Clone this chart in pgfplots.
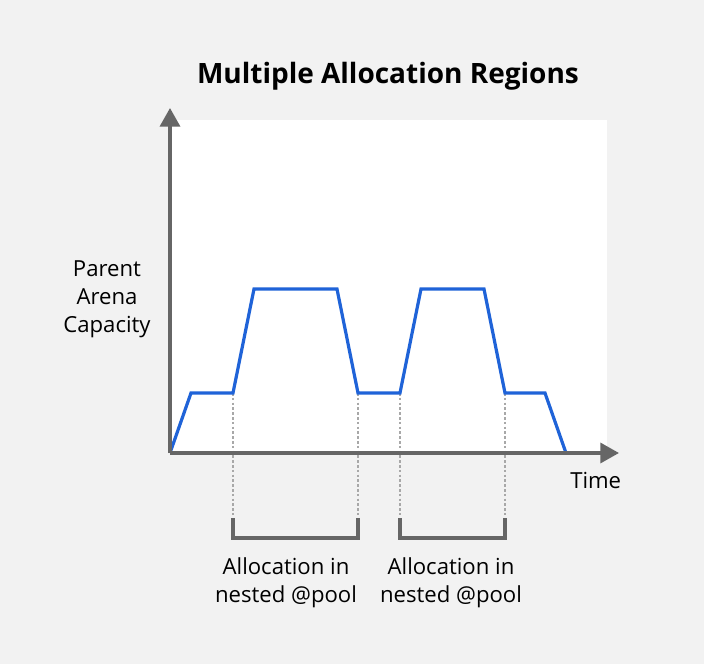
\documentclass[border=0pt]{standalone}
\usepackage{pgfplots}
\pgfplotsset{compat=1.18}
\usepackage{fontspec}
\setmainfont{Open Sans}
\usetikzlibrary{arrows.meta}
\definecolor{bg}{HTML}{F2F2F2}
\definecolor{axgray}{HTML}{666666}
\definecolor{dotgray}{HTML}{A8A8A8}
\definecolor{lineblue}{HTML}{1F63D8}
\begin{document}
\begin{tikzpicture}
\begin{axis}[
  x=0.75pt, y=0.75pt,
  xmin=0, xmax=437, ymin=0, ymax=333,
  hide axis, clip=false,
]
% canvas and plot area
\fill[bg] (axis cs:-170,-211) rectangle (axis cs:534,453);
\fill[white] (axis cs:0,0) rectangle (axis cs:437,333);
% dotted guide lines
\addplot[dotgray, line width=2.2pt, dash pattern=on 2pt off 1.6pt, forget plot] coordinates {(63,60) (63,-62)};
\addplot[dotgray, line width=2.2pt, dash pattern=on 2pt off 1.6pt, forget plot] coordinates {(188,60) (188,-62)};
\addplot[dotgray, line width=2.2pt, dash pattern=on 2pt off 1.6pt, forget plot] coordinates {(230,60) (230,-62)};
\addplot[dotgray, line width=2.2pt, dash pattern=on 2pt off 1.6pt, forget plot] coordinates {(335,60) (335,-62)};
% brackets
\addplot[axgray, line width=2.6pt, forget plot] coordinates {(63,-65) (63,-85) (188,-85) (188,-65)};
\addplot[axgray, line width=2.6pt, forget plot] coordinates {(230,-65) (230,-85) (335,-85) (335,-65)};
% capacity line
\addplot[lineblue, line width=2.4pt, line join=miter, forget plot] coordinates {
(0,0) (21,60) (63,60) (84,164) (167,164) (188,60) (230,60) (251,164) (314,164) (335,60) (375,60) (396,0)};
% axes with arrows
\draw[axgray, line width=2.6pt, -{Triangle[length=14pt,width=15pt]}] (axis cs:0,0) -- (axis cs:0,345);
\draw[axgray, line width=2.6pt, -{Triangle[length=14pt,width=15pt]}] (axis cs:0,0) -- (axis cs:449,0);
% texts
\node[font=\fontsize{21}{25}\selectfont\bfseries] at (axis cs:218,377) {Multiple Allocation Regions};
\node[font=\fontsize{16.6}{21}\selectfont, align=center] at (axis cs:-63,154) {Parent\\Arena\\Capacity};
\node[font=\fontsize{16.6}{21}\selectfont, anchor=west, inner sep=0pt] at (axis cs:400,-27) {Time};
\node[font=\fontsize{16.6}{21}\selectfont, align=center] at (axis cs:116,-130) {Allocation in\\nested @pool};
\node[font=\fontsize{16.6}{21}\selectfont, align=center] at (axis cs:281,-130) {Allocation in\\nested @pool};
\end{axis}
\end{tikzpicture}
\end{document}
